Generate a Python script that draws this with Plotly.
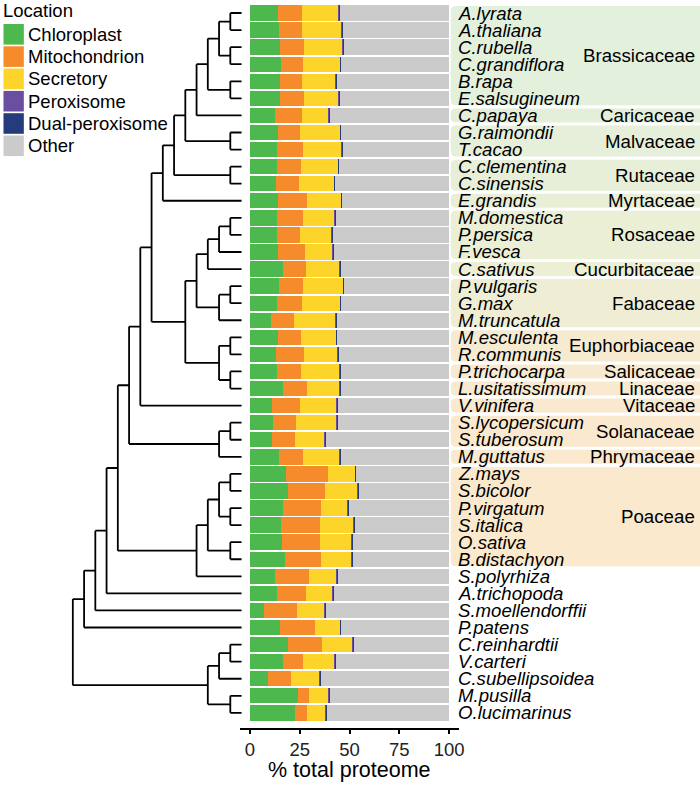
import plotly.graph_objects as go

W, H = 700, 785

species = ["A.lyrata", "A.thaliana", "C.rubella", "C.grandiflora", "B.rapa", "E.salsugineum",
           "C.papaya", "G.raimondii", "T.cacao", "C.clementina", "C.sinensis", "E.grandis",
           "M.domestica", "P.persica", "F.vesca", "C.sativus", "P.vulgaris", "G.max",
           "M.truncatula", "M.esculenta", "R.communis", "P.trichocarpa", "L.usitatissimum",
           "V.vinifera", "S.lycopersicum", "S.tuberosum", "M.guttatus", "Z.mays", "S.bicolor",
           "P.virgatum", "S.italica", "O.sativa", "B.distachyon", "S.polyrhiza", "A.trichopoda",
           "S.moellendorffii", "P.patens", "C.reinhardtii", "V.carteri", "C.subellipsoidea",
           "M.pusilla", "O.lucimarinus"]

chloroplast = [14.1, 14.6, 15.3, 15.4, 15.1, 15.3, 12.6, 14.1, 13.5, 13.8, 13.1, 14.1, 13.8, 13.5,
               14.3, 16.4, 14.8, 13.6, 10.8, 14.0, 13.0, 13.5, 16.6, 11.3, 11.6, 11.1, 14.8, 17.9,
               19.1, 16.4, 15.8, 15.9, 17.8, 12.6, 13.5, 7.3, 15.1, 19.3, 16.6, 9.1, 23.9, 22.6]
mitochondrion = [12.0, 11.5, 11.8, 11.2, 11.1, 11.8, 13.3, 11.0, 13.2, 11.8, 11.5, 14.5, 12.9, 11.6,
                 13.3, 11.7, 11.6, 12.3, 11.1, 11.4, 14.1, 11.9, 11.8, 13.8, 11.7, 11.7, 11.9, 21.1,
                 18.6, 19.3, 19.2, 19.1, 18.1, 17.3, 14.4, 16.3, 17.8, 17.1, 10.1, 11.3, 5.7, 6.1]
secretory = [18.4, 20.1, 19.4, 18.7, 16.7, 17.4, 13.5, 20.1, 19.3, 18.6, 17.6, 17.1, 15.8, 15.9,
             13.9, 16.9, 20.4, 19.4, 21.0, 17.8, 16.9, 19.5, 16.6, 18.4, 20.1, 14.7, 18.2, 13.8,
             16.3, 13.5, 17.2, 16.2, 15.3, 13.5, 13.6, 13.8, 12.3, 15.1, 15.7, 14.6, 9.8, 9.2]
peroxisome = [0.3] * 42
dual_peroxisome = [0.3] * 42
other = [54.9, 53.2, 52.9, 54.1, 56.5, 54.9, 60.0, 54.2, 53.4, 55.2, 57.2, 53.7, 56.9, 58.4,
         57.9, 54.4, 52.6, 54.1, 56.5, 56.2, 55.4, 54.5, 54.4, 55.9, 56.0, 61.9, 54.5, 46.6,
         45.4, 50.2, 47.2, 48.2, 48.2, 56.0, 57.9, 62.0, 54.2, 47.9, 57.0, 64.4, 60.0, 61.5]

locations = ["Chloroplast", "Mitochondrion", "Secretory", "Peroxisome", "Dual-peroxisome", "Other"]
loc_colors = ["#4DB84E", "#F68B2C", "#FDD42A", "#6A4FA0", "#263B7B", "#CBCBCB"]

families = ["Brassicaceae", "Caricaceae", "Malvaceae", "Rutaceae", "Myrtaceae", "Rosaceae",
            "Cucurbitaceae", "Fabaceae", "Euphorbiaceae", "Salicaceae", "Linaceae", "Vitaceae",
            "Solanaceae", "Phrymaceae", "Poaceae"]
family_sizes = [6, 1, 2, 2, 1, 3, 1, 3, 2, 1, 1, 1, 2, 1, 6]
family_colors = ["#E3F0DC", "#E4EFDA", "#E5EFD9", "#E7EFD8", "#E9EFD7", "#EBEFD6", "#EDEFD5",
                 "#EFEED4", "#F6EAD1", "#F7EAD0", "#F8E9CF", "#F9E9CF", "#FAE9CE", "#FAE9CE",
                 "#FBE9CD"]

# tree topology (cladogram)
brass = ((("A.lyrata", "A.thaliana"), ("C.rubella", "C.grandiflora")), ("B.rapa", "E.salsugineum"))
n_a = ((((brass, "C.papaya"), ("G.raimondii", "T.cacao")), ("C.clementina", "C.sinensis")), "E.grandis")
ros = ((("M.domestica", "P.persica"), "F.vesca"), "C.sativus")
fab = (("P.vulgaris", "G.max"), "M.truncatula")
malp = (("M.esculenta", "R.communis"), ("P.trichocarpa", "L.usitatissimum"))
n_b = ((ros, fab), malp)
sol = (("S.lycopersicum", "S.tuberosum"), "M.guttatus")
poa = (((("Z.mays", "S.bicolor"), ("P.virgatum", "S.italica")), ("O.sativa", "B.distachyon")), "S.polyrhiza")
alg = ((("C.reinhardtii", "V.carteri"), "C.subellipsoidea"), ("M.pusilla", "O.lucimarinus"))
eud = (((n_a, n_b), "V.vinifera"), sol)
land = (((((eud, poa), "A.trichopoda"), "S.moellendorffii"), "P.patens"))
tree = (land, alg)

idx = {s: i for i, s in enumerate(species)}
tx, ty = [], []


def layout(node):
    if isinstance(node, str):
        return 0, idx[node]
    res = [layout(c) for c in node]
    lvl = max(r[0] for r in res) + 1
    ys = [r[1] for r in res]
    y = sum(ys) / len(ys)
    tx.extend([-lvl, -lvl, None]); ty.extend([min(ys), max(ys), None])
    for cl, cy in res:
        tx.extend([-lvl, -cl, None]); ty.extend([cy, cy, None])
    return lvl, y


layout(tree)

FONT = "Liberation Sans, Arial, sans-serif"
fig = go.Figure()
fig.add_trace(go.Scatter(x=tx, y=ty, mode="lines", line=dict(color="black", width=1.8),
                         xaxis="x", yaxis="y", showlegend=False, hoverinfo="skip"))

series = [chloroplast, mitochondrion, secretory, peroxisome, dual_peroxisome, other]
rows = list(range(len(species)))
for name, vals, col in zip(locations, series, loc_colors):
    fig.add_trace(go.Bar(y=rows, x=vals, orientation="h", name=name,
                         marker=dict(color=col, line=dict(width=0)),
                         width=0.9, xaxis="x2", yaxis="y", showlegend=False))

# pixel geometry
row0_y, row_pitch = 13.0, 17.07
axis_y = 728.3
tip_x, lvl_pitch = 243.3, 11.33
bar_left, bar_right = 241.7, 462.4
tree_right = 250.0

y_top = -row0_y / row_pitch
y_bot = (axis_y - row0_y) / row_pitch
ydom0 = 1 - axis_y / H

shapes, annots = [], []
start = 0
r = 5.0
for fam, n, col in zip(families, family_sizes, family_colors):
    a, b = start - 0.41, start + n - 1 + 0.41
    x0 = 454 / W
    x1 = 1.05
    rx = r / W
    ry = r / row_pitch
    path = (f"M {x1} {a} L {x0 + rx} {a} Q {x0} {a} {x0} {a + ry} "
            f"L {x0} {b - ry} Q {x0} {b} {x0 + rx} {b} L {x1} {b} Z")
    shapes.append(dict(type="path", path=path, xref="paper", yref="y", fillcolor=col,
                       line=dict(width=0), layer="below"))
    annots.append(dict(x=701.5 / W, y=start + (n - 1) / 2, xref="paper", yref="y", text=fam,
                       xanchor="right", yanchor="middle", showarrow=False, borderpad=0,
                       font=dict(family=FONT, size=18.7, color="black")))
    start += n

for i, s in enumerate(species):
    annots.append(dict(x=460.5 / W, y=i, xref="paper", yref="y", text=f"<i>{s}</i>",
                       xanchor="left", yanchor="middle", showarrow=False, borderpad=0,
                       font=dict(family=FONT, size=18.6, color="black")))

annots.append(dict(x=2 / W, y=1 - 11 / H, xref="paper", yref="paper", text="Location",
                   xanchor="left", yanchor="middle", showarrow=False, borderpad=0,
                   font=dict(family=FONT, size=18.5, color="black")))
for k, (name, col) in enumerate(zip(locations, loc_colors)):
    y0 = 24 + k * 22.3
    shapes.append(dict(type="rect", xref="paper", yref="paper", x0=3.5 / W, x1=24 / W,
                       y0=1 - y0 / H, y1=1 - (y0 + 20.6) / H, fillcolor=col, line=dict(width=0)))
    annots.append(dict(x=27 / W, y=1 - (y0 + 10.3) / H, xref="paper", yref="paper", text=name,
                       xanchor="left", yanchor="middle", showarrow=False, borderpad=0,
                       font=dict(family=FONT, size=18.5, color="black")))

annots.append(dict(x=50, y=1 - 770 / H, xref="x2", yref="paper", text="% total proteome",
                   xanchor="center", yanchor="middle", showarrow=False,
                   font=dict(family=FONT, size=21.5, color="black")))

fig.update_layout(
    width=W, height=H, margin=dict(l=0, r=0, t=0, b=0),
    paper_bgcolor="white", plot_bgcolor="rgba(0,0,0,0)",
    barmode="stack", bargap=0.1, showlegend=False,
    shapes=shapes, annotations=annots,
    xaxis=dict(domain=[0, tree_right / W],
               range=[-tip_x / lvl_pitch, (tree_right - tip_x) / lvl_pitch],
               visible=False, anchor="y"),
    xaxis2=dict(domain=[bar_left / W, bar_right / W], range=[-5, 105], anchor="y",
                tickvals=[0, 25, 50, 75, 100], ticktext=["0", "25", "50", "75", "100"],
                showline=True, linecolor="black", linewidth=1.8, ticks="outside", ticklen=4,
                tickwidth=1.5, tickcolor="black", showgrid=False, zeroline=False,
                tickfont=dict(family=FONT, size=18.5, color="#222")),
    yaxis=dict(domain=[ydom0, 1], range=[y_bot, y_top], visible=False),
)
fig.write_html("out.html", config={"displayModeBar": False},
               post_script="document.body.style.margin='0';document.body.style.overflow='hidden';")
